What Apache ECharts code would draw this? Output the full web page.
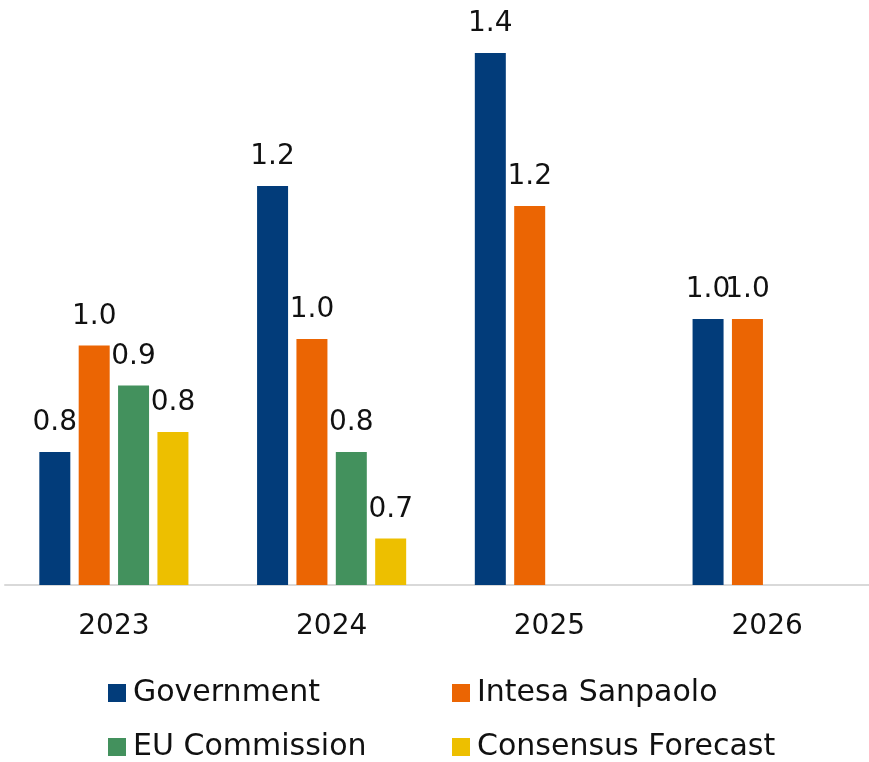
<!DOCTYPE html>
<html>
<head>
<meta charset="utf-8">
<script src="https://cdn.jsdelivr.net/npm/echarts@6/dist/echarts.min.js"></script>
<style>
  html, body { margin: 0; padding: 0; background: #ffffff; }
  #chart { width: 869px; height: 762px; }
</style>
</head>
<body>
<div id="chart"></div>
<script>
// Real GDP growth forecasts (%), by source and year
const years = ['2023', '2024', '2025', '2026'];
const government = [0.8, 1.2, 1.4, 1.0];
const intesaSanpaolo = [0.96, 0.97, 1.17, 1.0];
const euCommission = [0.9, 0.8, null, null];
const consensusForecast = [0.83, 0.67, null, null];

const seriesNames = ['Government', 'Intesa Sanpaolo', 'EU Commission', 'Consensus Forecast'];
const seriesValues = [government, intesaSanpaolo, euCommission, consensusForecast];
const colors = ['#023C7A', '#EB6503', '#43915D', '#EDBF00'];

const FONT = 'DejaVu Sans';

const chart = echarts.init(document.getElementById('chart'), null, { renderer: 'canvas' });

const series = seriesNames.map((name, i) => ({
  name: name,
  type: 'bar',
  data: seriesValues[i],
  barWidth: 31,
  barGap: '27%',
  itemStyle: { color: colors[i] },
  label: {
    show: true,
    position: 'top',
    distance: 15,
    color: '#111111',
    fontFamily: FONT,
    fontSize: 28,
    formatter: p => (p.value == null ? '' : Number(p.value).toFixed(1))
  }
}));

// one legend block per entry, laid out in two columns
const legendSpots = [
  { left: 108, top: 678 },
  { left: 452, top: 678 },
  { left: 108, top: 732 },
  { left: 452, top: 732 }
];
const legends = seriesNames.map((name, i) => ({
  data: [name],
  left: legendSpots[i].left,
  top: legendSpots[i].top,
  padding: 0,
  icon: 'rect',
  itemWidth: 18,
  itemHeight: 18,
  selectedMode: false,
  textStyle: { fontFamily: FONT, fontSize: 30, color: '#111111', padding: [0, 0, 0, 2] }
}));

chart.setOption({
  animation: false,
  color: colors,
  // the plot runs a little past the right edge of the canvas
  grid: { left: 5, width: 871, top: 53, height: 532, containLabel: false, outerBoundsMode: 'none' },
  legend: legends,
  xAxis: {
    type: 'category',
    data: years,
    axisLine: { show: true, lineStyle: { color: '#D9D9D9', width: 2 } },
    axisTick: { show: false },
    axisLabel: { margin: 28, color: '#111111', fontFamily: FONT, fontSize: 28 }
  },
  yAxis: {
    type: 'value',
    min: 0.6,
    max: 1.4,
    show: false,
    splitLine: { show: false }
  },
  series: series
});
</script>
</body>
</html>
